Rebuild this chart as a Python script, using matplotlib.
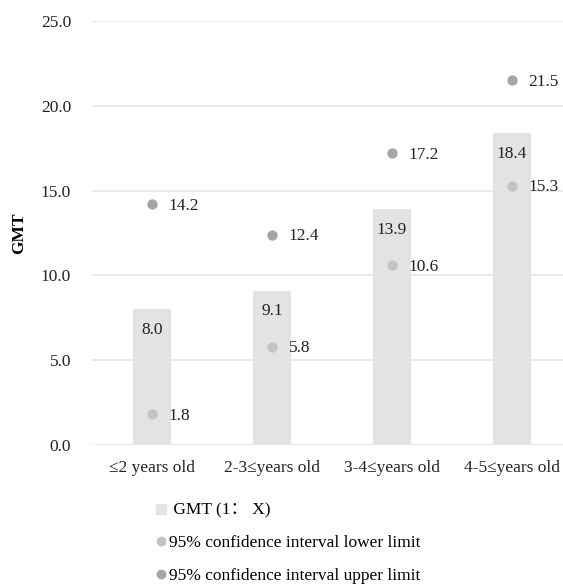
import matplotlib.pyplot as plt
from matplotlib.lines import Line2D

# data
groups = ['≤2 years old', '2-3≤years old', '3-4≤years old', '4-5≤years old']
gmt = [8.0, 9.1, 13.9, 18.4]
ci_lower = [1.8, 5.8, 10.6, 15.3]
ci_upper = [14.2, 12.4, 17.2, 21.5]

bar_color = '#e3e3e3'
low_color = '#c3c3c3'
up_color = '#a5a5a5'

plt.rcParams['font.family'] = ['Liberation Serif', 'DejaVu Serif']
plt.rcParams['font.size'] = 12.5

W, H = 563, 586
fig = plt.figure(figsize=(W / 100, H / 100), dpi=100)
# axes placed in pixel terms: left 92, width 480, y=0 at 445, y=25 at 21
ax = fig.add_axes([92 / W, 1 - 445 / H, 480 / W, (445 - 21) / H])

x = range(len(groups))
ax.bar(x, gmt, width=0.31, color=bar_color, zorder=2)
ax.scatter(x, ci_lower, s=55, color=low_color, zorder=3, linewidths=0)
ax.scatter(x, ci_upper, s=55, color=up_color, zorder=3, linewidths=0)

for i in x:
    ax.annotate(f'{gmt[i]:.1f}', (i, gmt[i]), xytext=(0, -15), textcoords='offset points',
                ha='center', va='center', color='#222222')
    ax.annotate(f'{ci_lower[i]:.1f}', (i, ci_lower[i]), xytext=(12, -1), textcoords='offset points',
                ha='left', va='center', color='#222222')
    ax.annotate(f'{ci_upper[i]:.1f}', (i, ci_upper[i]), xytext=(12, -1), textcoords='offset points',
                ha='left', va='center', color='#222222')

ax.set_xlim(-0.5, 3.5)
ax.set_ylim(0, 25)
ax.set_yticks([0, 5, 10, 15, 20, 25])
ax.set_yticklabels([f'{v:.1f}' for v in [0, 5, 10, 15, 20, 25]])
ax.set_xticks(list(x))
ax.set_xticklabels(groups)
ax.tick_params(length=0, colors='#222222')
ax.tick_params(axis='y', pad=15)
ax.tick_params(axis='x', pad=11)
ax.grid(axis='y', color='#e6e6e6', linewidth=1.2, zorder=0)
ax.set_axisbelow(True)
for s in ax.spines.values():
    s.set_visible(False)
ax.set_ylabel('GMT', fontweight='bold', labelpad=10)

handles = [
    Line2D([], [], marker='s', linestyle='none', color=bar_color, markersize=6.5),
    Line2D([], [], marker='o', linestyle='none', color=low_color, markersize=6),
    Line2D([], [], marker='o', linestyle='none', color=up_color, markersize=6),
]
labels = [' GMT (1： X)', '95% confidence interval lower limit', '95% confidence interval upper limit']
leg = fig.legend(handles, labels, loc='upper left', bbox_to_anchor=(157 / W, 1 - 502.5 / H),
                 frameon=False, handlelength=0.5, handletextpad=0.2, labelspacing=0.94,
                 borderpad=0, borderaxespad=0)
for t in leg.get_texts():
    t.set_family(['Liberation Serif', 'Noto Sans CJK SC'])

fig.savefig('out.png', dpi=100)
